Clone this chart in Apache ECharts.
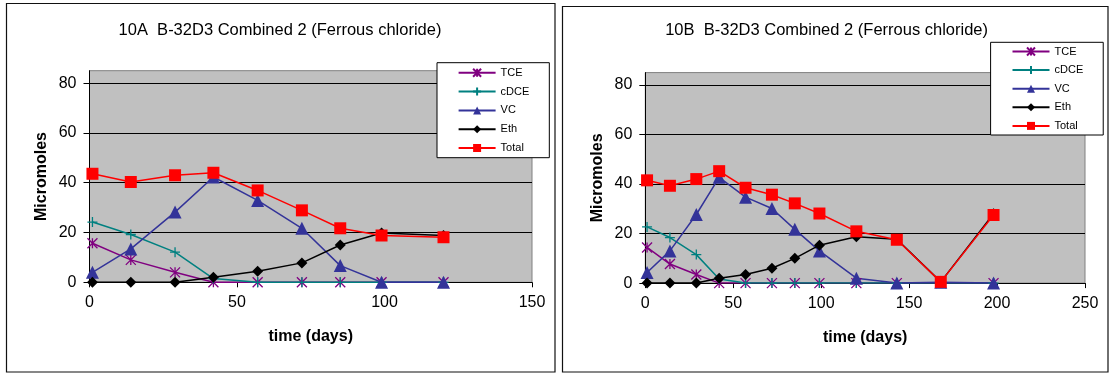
<!DOCTYPE html>
<html>
<head>
<meta charset="utf-8">
<script src="https://cdn.jsdelivr.net/npm/echarts@6/dist/echarts.min.js"></script>
<style>
  html, body { margin: 0; padding: 0; background: #fff; }
  #chart { width: 1113px; height: 374px; }
</style>
</head>
<body>
<div id="chart"></div>
<script>
// ---- 10A: sampling days and concentrations (micromoles) ----
const daysA  = [1, 14, 29, 42, 57, 72, 85, 99, 120];
const tceA   = [15.7, 9, 4, 0, 0, 0, 0, 0, 0];
const cdceA  = [24.2, 19.2, 12.1, 1.5, 0, 0, 0, 0, 0];
const vcA    = [4, 13.4, 28.2, 42.3, 32.9, 21.7, 6.7, 0, 0];
const ethA   = [0, 0, 0, 2, 4.4, 7.8, 15, 19.8, 18.8];
const totalA = [43.6, 40.3, 43, 44, 36.9, 28.9, 21.7, 18.8, 18.1];

// ---- 10B: sampling days and concentrations (micromoles) ----
const daysB  = [1, 14, 29, 42, 57, 72, 85, 99, 120, 143, 168, 198];
const tceB   = [14.4, 7.7, 3.5, 0, 0, 0, 0, 0, 0, 0, 0, 0];
const cdceB  = [22.7, 18.4, 11.5, 1.7, 0, 0, 0, 0, 0, 0, 0, 0];
const vcB    = [4.3, 13, 27.7, 42.7, 34.7, 30.1, 21.7, 13, 2, 0, 0.3, 0];
const ethB   = [0, 0, 0, 2, 3.5, 6, 10, 15.3, 18.7, 17.7, 0.5, 28];
const totalB = [41.5, 39.3, 42, 45.2, 38.5, 35.7, 32.2, 28.1, 20.9, 17.5, 0.5, 27.5];

// ---- axis ticks and labels ----
const yTicks  = [0, 20, 40, 60, 80];
const xTicksA = [0, 50, 100, 150];
const xTicksB = [0, 50, 100, 150, 200, 250];
const seriesNames = ['TCE', 'cDCE', 'VC', 'Eth', 'Total'];
const titleA = '10A  B-32D3 Combined 2 (Ferrous chloride)';
const titleB = '10B  B-32D3 Combined 2 (Ferrous chloride)';
const xName = 'time (days)';
const yName = 'Micromoles';

const FONT = '"Liberation Sans", Arial, sans-serif';

// marker look for each compound
const styles = {
  TCE:   { color: '#800080', symbol: 'path://M0,0L10,10M10,0L0,10M5,0L5,10', size: 10, stroke: true },
  cDCE:  { color: '#008080', symbol: 'path://M5,0L5,10M0,5L10,5', size: 10, stroke: true },
  VC:    { color: '#333399', symbol: 'triangle', size: 13 },
  Eth:   { color: '#000000', symbol: 'diamond', size: 11 },
  Total: { color: '#FF0000', symbol: 'rect', size: 12 }
};

function makeSeries(name, days, values, gridIndex) {
  const s = styles[name];
  return {
    name: name,
    type: 'line',
    xAxisIndex: gridIndex,
    yAxisIndex: gridIndex,
    data: days.map((d, i) => [d, values[i]]),
    symbol: s.symbol,
    symbolSize: s.size,
    showSymbol: true,
    showAllSymbol: true,
    lineStyle: { color: s.color, width: 1.5 },
    itemStyle: s.stroke
      ? { color: s.color, borderColor: s.color, borderWidth: 1.3 }
      : { color: s.color, borderWidth: 0 },
    emphasis: { disabled: true },
    animation: false
  };
}

function makeXAxis(gridIndex, ticks) {
  return {
    gridIndex: gridIndex,
    type: 'value',
    min: ticks[0],
    max: ticks[ticks.length - 1],
    interval: ticks[1] - ticks[0],
    axisLine: { show: true, onZero: true, lineStyle: { color: '#000', width: 1 } },
    axisTick: { show: true, inside: false, length: 5, lineStyle: { color: '#000' } },
    axisLabel: { show: true, fontSize: 16, color: '#000', fontFamily: FONT, margin: 12 },
    splitLine: { show: false },
    name: xName,
    nameLocation: 'middle',
    nameGap: 46,
    nameTextStyle: { fontSize: 16, fontWeight: 'bold', color: '#000', fontFamily: FONT }
  };
}

function makeYAxis(gridIndex) {
  return {
    gridIndex: gridIndex,
    type: 'value',
    min: 0,
    max: 85,
    interval: 20,
    axisLine: { show: true, onZero: false, lineStyle: { color: '#000', width: 1 } },
    axisTick: { show: true, inside: false, length: 6, customValues: yTicks, lineStyle: { color: '#000' } },
    axisLabel: { show: true, fontSize: 16, color: '#000', fontFamily: FONT, margin: 13, customValues: yTicks },
    splitLine: { show: true, showMinLine: false, lineStyle: { color: '#000', width: 1 } },
    name: yName,
    nameLocation: 'middle',
    nameGap: 40,
    nameTextStyle: { fontSize: 16, fontWeight: 'bold', color: '#000', fontFamily: FONT }
  };
}

function makeLegend(left, top, gap, pad) {
  return {
    orient: 'vertical',
    left: left,
    top: top,
    data: seriesNames,
    itemWidth: 37,
    itemHeight: 10,
    itemGap: gap,
    padding: pad,
    backgroundColor: '#ffffff',
    borderColor: '#000000',
    borderWidth: 1,
    selectedMode: false,
    textStyle: { fontSize: 11, color: '#000', fontFamily: FONT }
  };
}

const series = [];
const dataA = { TCE: tceA, cDCE: cdceA, VC: vcA, Eth: ethA, Total: totalA };
const dataB = { TCE: tceB, cDCE: cdceB, VC: vcB, Eth: ethB, Total: totalB };
seriesNames.forEach(n => series.push(makeSeries(n, daysA, dataA[n], 0)));
seriesNames.forEach(n => series.push(makeSeries(n, daysB, dataB[n], 1)));

const chart = echarts.init(document.getElementById('chart'), null, { renderer: 'canvas' });
chart.setOption({
  backgroundColor: '#ffffff',
  animation: false,
  textStyle: { fontFamily: FONT },
  grid: [
    { left: 89.5, top: 70.7, width: 442.5, height: 211.6, show: true,
      backgroundColor: '#C0C0C0', borderColor: '#808080', borderWidth: 1 },
    { left: 645.3, top: 72.6, width: 439.7, height: 210.5, show: true,
      backgroundColor: '#C0C0C0', borderColor: '#808080', borderWidth: 1 }
  ],
  xAxis: [makeXAxis(0, xTicksA), makeXAxis(1, xTicksB)],
  yAxis: [makeYAxis(0), makeYAxis(1)],
  legend: [
    makeLegend(437, 62.7, 7.8, [4.6, 20, 4.2, 20.6]),
    makeLegend(990.6, 42.3, 7.6, [3.7, 20, 3.6, 20.9])
  ],
  graphic: [
    // outer frames of the two panels
    { type: 'rect', z: -1, silent: true, shape: { x: 6.5, y: 3.5, width: 548.5, height: 368.5 },
      style: { fill: '#ffffff', stroke: '#111', lineWidth: 1.2 } },
    { type: 'rect', z: -1, silent: true, shape: { x: 562.5, y: 6.5, width: 545.5, height: 365.5 },
      style: { fill: '#ffffff', stroke: '#111', lineWidth: 1.2 } },
    // panel titles
    { type: 'text', silent: true, style: { text: titleA, x: 280, y: 30.7, align: 'center', verticalAlign: 'middle',
      font: '16.5px ' + FONT, fill: '#000' } },
    { type: 'text', silent: true, style: { text: titleB, x: 826.6, y: 30, align: 'center', verticalAlign: 'middle',
      font: '16.5px ' + FONT, fill: '#000' } }
  ],
  series: series
});
</script>
</body>
</html>
